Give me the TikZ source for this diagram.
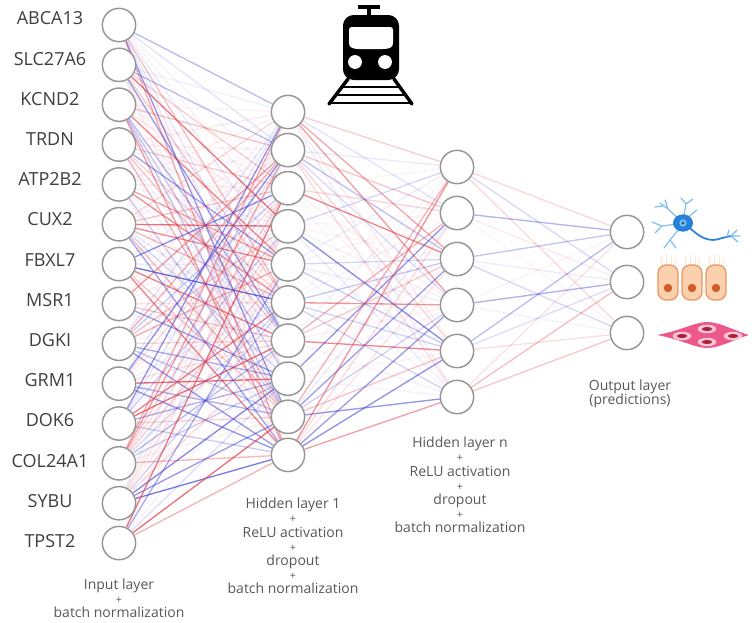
\documentclass[tikz,border=0pt]{standalone}
\usepackage{fontspec}
\setmainfont{Open Sans}
\usepackage{tikz}
\usetikzlibrary{backgrounds}

\definecolor{linkred}{RGB}{226,70,82}
\definecolor{linkblue}{RGB}{66,66,212}
\definecolor{ringgray}{RGB}{150,150,150}
\definecolor{labelgray}{RGB}{62,62,62}
\definecolor{capgray}{RGB}{88,88,88}
\definecolor{nrnblue}{RGB}{38,128,218}
\definecolor{nrnlight}{RGB}{125,190,236}
\definecolor{epifill}{RGB}{251,208,174}
\definecolor{epiedge}{RGB}{236,150,96}
\definecolor{epinuc}{RGB}{206,96,46}
\definecolor{smcfill}{RGB}{236,88,138}
\definecolor{smcnuc}{RGB}{172,32,52}

% one weighted connection, random sign and strength
\newcommand{\nnlink}[3]{%
  \pgfmathsetmacro\op{0.06+#3*rnd^2.2}%
  \pgfmathtruncatemacro\pick{rnd<0.5}%
  \ifnum\pick=1 \def\hue{linkred}\else\def\hue{linkblue}\fi
  \draw[link, draw=\hue, draw opacity=\op] (#1) -- (#2);}
\newcommand{\plusrow}{{\fontsize{8}{8}\selectfont +}}

\begin{document}
\begin{tikzpicture}[x=0.75pt, y=-0.75pt,
  unit/.style={circle, draw=ringgray, line width=1.1pt, fill=white, minimum size=25pt, inner sep=0pt},
  gene/.style={font=\fontsize{13.5}{16}\selectfont, text=labelgray},
  caption/.style={font=\fontsize{10.5}{10.6}\selectfont, text=capgray, align=center},
  link/.style={line width=1pt}]
\useasboundingbox (0,0) rectangle (756,622);
\pgfmathsetseed{11}

% input layer with gene names
\foreach \g [count=\i] in {ABCA13,SLC27A6,KCND2,TRDN,ATP2B2,CUX2,FBXL7,MSR1,DGKI,GRM1,DOK6,COL24A1,SYBU,TPST2} {
  \node[unit] (i\i) at (119,{25+39.85*(\i-1)}) {};
  \node[gene] (g\i) at (50,{18.5+40.2*(\i-1)}) {\g};
}
% hidden layers and output
\foreach \j in {1,...,10} \node[unit] (h\j) at (288,{112+38.1*(\j-1)}) {};
\foreach \k in {1,...,6}  \node[unit] (n\k) at (457,{167+46*(\k-1)}) {};
\node[unit] (o1) at (627,232) {};
\node[unit] (o2) at (627,282) {};
\node[unit] (o3) at (627,333) {};

\begin{scope}[on background layer]
\foreach \a in {1,...,14} \foreach \b in {1,...,10} {\nnlink{i\a}{h\b}{0.75}}
\foreach \a in {1,...,10} \foreach \b in {1,...,6}  {\nnlink{h\a}{n\b}{0.6}}
\foreach \a in {1,...,6}  \foreach \b in {1,2,3}    {\nnlink{n\a}{o\b}{0.5}}
\end{scope}

% captions
\node[caption] (capin) at (119,598) {Input layer\\\plusrow\\batch normalization};
\node[caption] (caph1) at (293,546) {Hidden layer 1\\\plusrow\\ReLU activation\\\plusrow\\dropout\\\plusrow\\batch normalization};
\node[caption] (caphn) at (460,485) {Hidden layer n\\\plusrow\\ReLU activation\\\plusrow\\dropout\\\plusrow\\batch normalization};
\node[caption] (capout) at (630,394) {Output layer\\(predictions)};

% train
\fill[rounded corners=8pt] (343,80) -- (343,15) -- (399,15) -- (399,80) -- cycle;
\fill[white, rounded corners=2pt] (349,27) -- (393,27) -- (393,40) .. controls (393,50) and (385,49) .. (371,49) .. controls (357,49) and (349,50) .. (349,40) -- cycle;
\fill[white] (355,62) circle (5.2pt) (385,62) circle (5.2pt);
\draw[line width=2.4pt] (358,7) -- (380,7) (369,7) -- (369,16);
\draw[line width=2.6pt, line cap=round] (348,79) -- (329,104) (394,79) -- (412,104);
\draw[line width=2.2pt] (342,87) -- (400,87) (336,95) -- (406,95) (331,103) -- (411,103);

% neuron
\draw[nrnlight, line width=0.9pt, line cap=round]
  (679,219) -- (668,209) -- (660,203) (668,209) -- (665,200) (663,206) -- (655,207)
  (677,224) -- (662,226) -- (652,222) (662,226) -- (655,233)
  (679,229) -- (670,240) -- (664,248) (670,240) -- (676,248)
  (684,216) -- (686,204) -- (681,198) (686,204) -- (693,199)
  (688,217) -- (697,210);
\draw[nrnblue, line width=1.3pt, line cap=round]
  (689,227) .. controls (700,238) and (710,243) .. (722,238) -- (731,236);
\draw[nrnlight, line width=0.9pt, line cap=round]
  (731,236) -- (737,230) (731,236) -- (738,242) (727,237) -- (729,230) (731,236) -- (740,236);
\fill[nrnblue] (683,223) ellipse (7.5pt and 6.5pt);
\fill[nrnlight] (683,223) circle (2.8pt);
\fill[nrnblue!70!black] (683,223) circle (1.2pt);

% epithelial cells
\foreach \cx in {668,692,716} {
  \draw[epifill!60!white, line width=0.6pt] (\cx-6,265) -- (\cx-7,256) (\cx-2,265) -- (\cx-1,254) (\cx+3,265) -- (\cx+4,255) (\cx+7,265) -- (\cx+8,258);
  \draw[epiedge, fill=epifill, line width=1pt, rounded corners=6pt] (\cx-10,265) rectangle (\cx+10,300);
  \fill[epinuc] (\cx,288) circle (3.2pt);
}

% smooth muscle sheet
\fill[smcfill] (657,335) .. controls (680,331) and (695,322) .. (707,322) .. controls (720,322) and (735,331) .. (749,335) .. controls (735,339) and (720,348) .. (707,348) .. controls (695,348) and (680,339) .. (657,335) -- cycle;
\foreach \p in {{707,329},{682,336},{733,336},{707,342}} {
  \fill[smcfill!35!white] (\p) ellipse (7pt and 3.2pt);
  \fill[smcnuc] (\p) ellipse (3.8pt and 1.5pt);
}
\end{tikzpicture}
\end{document}
